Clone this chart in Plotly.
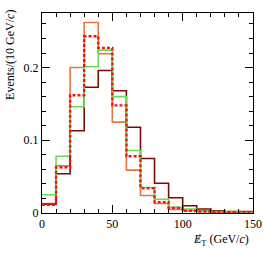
import plotly.graph_objects as go

edges = [0, 10, 20, 30, 40, 50, 60, 70, 80, 90, 100, 110, 120, 130, 140, 150]
orange = [0.013, 0.065, 0.200, 0.262, 0.219, 0.125, 0.059, 0.024, 0.013, 0.005, 0.003, 0.002, 0.001, 0.001, 0.001]
darkred = [0.012, 0.054, 0.113, 0.173, 0.196, 0.168, 0.118, 0.075, 0.041, 0.021, 0.010, 0.0055, 0.003, 0.002, 0.002]
green = [0.025, 0.078, 0.146, 0.201, 0.224, 0.160, 0.086, 0.035, 0.019, 0.008, 0.0055, 0.003, 0.002, 0.002, 0.001]
reddot = [0.0114, 0.063, 0.162, 0.243, 0.227, 0.148, 0.078, 0.034, 0.015, 0.007, 0.003, 0.002, 0.001, 0.001, 0.001]

series = [
    (orange, "#e8763a", "solid"),
    (darkred, "#7a0a0a", "solid"),
    (green, "#66dd55", "solid"),
    (reddot, "#ff1010", "3px,2px"),
]

fig = go.Figure()
for vals, col, dash in series:
    fig.add_trace(go.Scatter(
        x=edges, y=vals + [vals[-1]], mode="lines", line_shape="hv",
        line=dict(color=col, width=1.6 if dash == "solid" else 2.4, dash=dash),
        showlegend=False, hoverinfo="skip"))

font = dict(family="Liberation Serif", size=12, color="black")
tickfont = dict(family="Liberation Serif", size=12, color="black")
fig.update_layout(
    width=266, height=255,
    margin=dict(l=42, r=13, t=13, b=42, autoexpand=False),
    paper_bgcolor="white", plot_bgcolor="white",
    font=font,
    xaxis=dict(range=[0, 150], dtick=50, ticks="inside", ticklen=8, tickcolor="black",
               showline=True, linecolor="black", linewidth=1, mirror="ticks",
               showgrid=False, zeroline=False, automargin=False, tickfont=tickfont,
               minor=dict(dtick=10, ticks="inside", ticklen=4, tickcolor="black", showgrid=False)),
    yaxis=dict(range=[0, 0.275], tickvals=[0, 0.1, 0.2], ticktext=["0", "0.1", "0.2"],
               ticks="inside", ticklen=8, tickcolor="black",
               showline=True, linecolor="black", linewidth=1, mirror="ticks",
               showgrid=False, zeroline=False, automargin=False, tickfont=tickfont,
               minor=dict(dtick=0.02, ticks="inside", ticklen=4, tickcolor="black", showgrid=False)),
)

fig.add_annotation(text="Events/(10 GeV/<i>c</i>)", xref="paper", yref="paper",
                   x=-0.152, y=1.025, xanchor="center", yanchor="top", textangle=-90,
                   showarrow=False, font=font)
fig.add_annotation(text="<i>E</i><sub>T</sub> (GeV/<i>c</i>)", xref="paper", yref="paper",
                   x=0.99, y=-0.135, xanchor="right", yanchor="middle",
                   showarrow=False, font=font)
fig.add_annotation(text="/", xref="paper", yref="paper",
                   x=0.745, y=-0.125, xanchor="center", yanchor="middle",
                   showarrow=False, font=font)

fig.write_html("out.html", config={"displayModeBar": False},
               post_script="document.body.style.margin='0px';")
